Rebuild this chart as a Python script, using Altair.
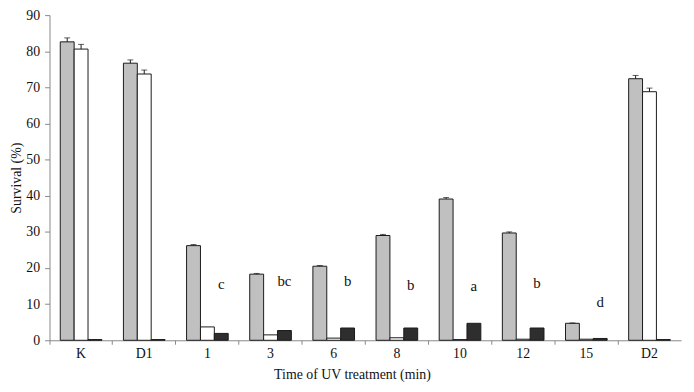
import altair as alt
import pandas as pd

categories = ["K", "D1", "1", "3", "6", "8", "10", "12", "15", "D2"]
gray = [82.6, 76.7, 26.2, 18.3, 20.5, 29.0, 39.1, 29.7, 4.7, 72.4]
white = [80.6, 73.7, 3.7, 1.5, 0.6, 0.7, 0.2, 0.3, 0.3, 68.8]
black = [0.2, 0.2, 1.9, 2.7, 3.4, 3.4, 4.7, 3.4, 0.5, 0.2]
gray_err = [1.1, 0.9, 0.3, 0.2, 0.2, 0.3, 0.4, 0.3, 0.1, 0.9]
white_err = [1.3, 1.1, 0, 0, 0, 0, 0, 0, 0, 1.0]
letters = ["", "", "c", "bc", "b", "b", "a", "b", "d", ""]
letter_y = [0, 0, 15.7, 16.5, 16.3, 15.4, 15.0, 15.9, 10.7, 0]

series = ["gray", "white", "black"]
fills = ["#c0c0c0", "#ffffff", "#2e2e2e"]

rows = []
for i, c in enumerate(categories):
    rows.append({"cat": c, "series": "gray", "value": gray[i]})
    rows.append({"cat": c, "series": "white", "value": white[i]})
    rows.append({"cat": c, "series": "black", "value": black[i]})
df = pd.DataFrame(rows)

err_rows = []
for i, c in enumerate(categories):
    if gray_err[i] > 0:
        err_rows.append({"cat": c, "series": "gray", "value": gray[i], "top": gray[i] + gray_err[i]})
    if white_err[i] > 0:
        err_rows.append({"cat": c, "series": "white", "value": white[i], "top": white[i] + white_err[i]})
df_err = pd.DataFrame(err_rows)

let_rows = [{"cat": c, "series": "black", "y": letter_y[i], "text": letters[i]}
            for i, c in enumerate(categories) if letters[i]]
df_let = pd.DataFrame(let_rows)

FONT = "Liberation Serif"

x_axis = alt.Axis(title="Time of UV treatment (min)", bandPosition=0,
                  labelAngle=0, tickSize=4,
                  labelPadding=2, domainColor="#888", tickColor="#888",
                  labelFont=FONT, labelFontSize=14, labelColor="#111",
                  titleFont=FONT, titleFontSize=14, titleFontWeight="normal",
                  titleColor="#111", titlePadding=8, titleX=306)
x_scale = alt.Scale(paddingInner=0, paddingOuter=0)
xoff_scale = alt.Scale(domain=series, paddingInner=0, paddingOuter=0.775)
y_scale = alt.Scale(domain=[0, 90], nice=False)
y_axis = alt.Axis(title="Survival (%)", values=list(range(0, 91, 10)), grid=False,
                  tickSize=5, labelPadding=5, domainColor="#888", tickColor="#888",
                  labelFont=FONT, labelFontSize=14, labelColor="#111", labelOverlap=False,
                  titleFont=FONT, titleFontSize=14, titleFontWeight="normal",
                  titleColor="#111", titlePadding=2)


def xenc():
    return alt.X("cat:N", sort=categories, scale=x_scale, axis=x_axis)


def xoff():
    return alt.XOffset("series:N", sort=series, scale=xoff_scale)


bars = alt.Chart(df).mark_bar(stroke="#1a1a1a", strokeWidth=1).encode(
    x=xenc(),
    xOffset=xoff(),
    y=alt.Y("value:Q", scale=y_scale, axis=y_axis),
    fill=alt.Fill("series:N", scale=alt.Scale(domain=series, range=fills), legend=None),
)

rules = alt.Chart(df_err).mark_rule(color="#1a1a1a", strokeWidth=1).encode(
    x=xenc(),
    xOffset=xoff(),
    y=alt.Y("value:Q", scale=y_scale, axis=y_axis),
    y2="top:Q",
)

caps = alt.Chart(df_err).mark_tick(color="#1a1a1a", orient="horizontal", size=6, thickness=1).encode(
    x=xenc(),
    xOffset=xoff(),
    y=alt.Y("top:Q", scale=y_scale, axis=y_axis),
)

texts = alt.Chart(df_let).mark_text(font=FONT, fontSize=15, color="#111", baseline="middle").encode(
    x=xenc(),
    xOffset=xoff(),
    y=alt.Y("y:Q", scale=y_scale, axis=y_axis),
    text="text:N",
)

chart = alt.layer(bars, rules, caps, texts).properties(
    width=639, height=329,
    autosize=alt.AutoSizeParams(type="none"),
    padding={"left": 42, "top": 5, "right": 5, "bottom": 40},
    background="white",
).configure_view(stroke=None)

chart.save("out.html", embed_options={"renderer": "svg", "actions": False})
